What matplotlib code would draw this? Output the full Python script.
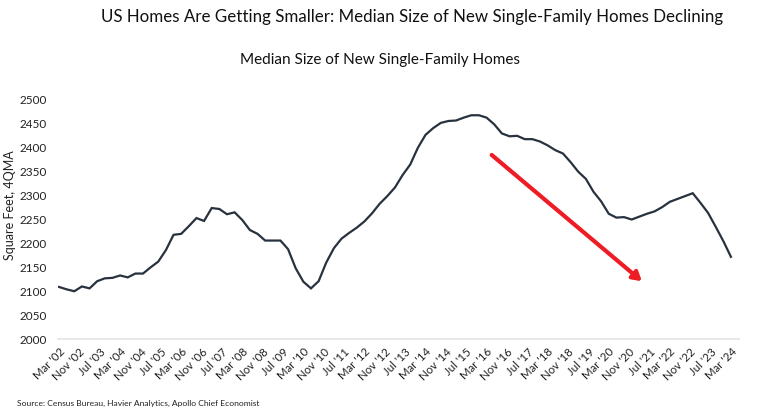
import numpy as np
import matplotlib
matplotlib.use("Agg")
import matplotlib.pyplot as plt

plt.rcParams['font.family'] = ['Lato', 'DejaVu Sans']

# quarterly, Mar '02 .. Mar '24, median size of new single-family homes (sq ft, 4QMA)
start_year, start_month = 2002, 3
sqft = [2109, 2104, 2100, 2110, 2106, 2121, 2127, 2128, 2133, 2129,
        2137, 2137, 2150, 2162, 2186, 2218, 2220, 2236, 2253, 2247,
        2274, 2272, 2261, 2265, 2249, 2228, 2220, 2206, 2206, 2206,
        2188, 2148, 2120, 2106, 2121, 2160, 2190, 2210, 2222, 2233,
        2246, 2263, 2283, 2299, 2317, 2343, 2365, 2400, 2427, 2441,
        2452, 2456, 2457, 2463, 2468, 2468, 2463, 2449, 2430, 2424,
        2425, 2418, 2418, 2413, 2405, 2395, 2388, 2370, 2350, 2335,
        2308, 2288, 2262, 2254, 2255, 2250, 2256, 2262, 2267, 2276,
        2287, 2293, 2299, 2305, 2285, 2264, 2235, 2205, 2172]
months = np.arange(len(sqft)) * 3          # months since Mar '02
tick_months = np.arange(0, months[-1] + 1, 8)
mnames = ['Jan', 'Feb', 'Mar', 'Apr', 'May', 'Jun', 'Jul', 'Aug', 'Sep', 'Oct', 'Nov', 'Dec']

def lab(m):
    t = start_month - 1 + m
    return f"{mnames[t % 12]} '{(start_year + t // 12) % 100:02d}"

tick_labels = [lab(m) for m in tick_months]
yticks = list(range(2000, 2501, 50))

fig = plt.figure(figsize=(7.68, 4.13), dpi=100)
ax = fig.add_axes([0.0755, 0.179, 0.8865, 0.579])
ax.plot(months, sqft, color='#28323f', lw=1.6, solid_joinstyle='miter')
ax.set_xlim(-0.4, 267.1)
ax.set_ylim(2000, 2500)
ax.set_yticks(yticks)
ax.set_yticklabels([str(v) for v in yticks], fontsize=8.5, color='#222222')
ax.set_xticks(tick_months)
ax.set_xticklabels(tick_labels, rotation=45, ha='right', rotation_mode='anchor',
                   fontsize=8.3, color='#222222')
ax.tick_params(axis='both', length=0)
ax.tick_params(axis='y', pad=8)
ax.tick_params(axis='x', pad=5)
for s in ['top', 'right', 'left']:
    ax.spines[s].set_visible(False)
ax.spines['bottom'].set_color('#e3e3e3')
ax.spines['bottom'].set_linewidth(1.2)
ax.set_ylabel('Square Feet, 4QMA', fontsize=9, color='#222222', labelpad=6)
ax.yaxis.set_label_coords(-0.062, 0.56)

ax.annotate('', xy=(229, 2121), xytext=(170, 2385),
            arrowprops=dict(arrowstyle='-|>,head_length=0.5,head_width=0.3',
                            color='#ee1c25', lw=3, shrinkA=0, shrinkB=0))

fig.text(0.537, 0.958, 'US Homes Are Getting Smaller: Median Size of New Single-Family Homes Declining',
         ha='center', va='center', fontsize=12.2, color='#111111')
fig.text(0.495, 0.855, 'Median Size of New Single-Family Homes',
         ha='center', va='center', fontsize=11, color='#111111')
fig.text(0.022, 0.022, 'Source: Census Bureau, Havier Analytics, Apollo Chief Economist',
         ha='left', va='center', fontsize=6.1, color='#222222')

fig.savefig('out.png', dpi=100)
